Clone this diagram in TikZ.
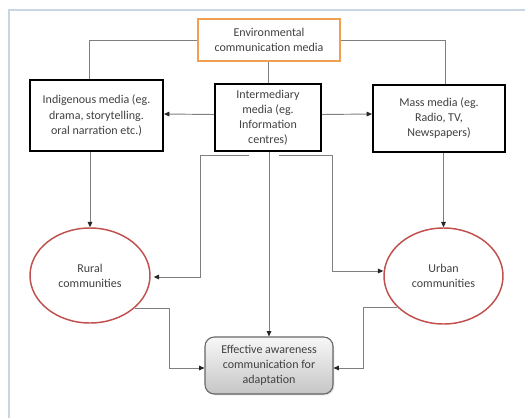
\documentclass[tikz,border=0pt]{standalone}
\usepackage{fontspec}
\setmainfont{Carlito}
\usetikzlibrary{arrows.meta,shapes.geometric,calc,shadows}
\definecolor{txt}{HTML}{404040}
\definecolor{conn}{HTML}{7F7F7F}
\definecolor{envor}{HTML}{F0A050}
\definecolor{ellred}{HTML}{C0504D}
\definecolor{framec}{HTML}{C9D5E2}
\begin{document}
\begin{tikzpicture}[x=0.75pt,y=-0.75pt,
  every node/.style={font=\fontsize{9}{11.3}\selectfont, text=txt, align=center, inner sep=0pt},
  mbox/.style={draw=black, line width=1.6pt, rectangle},
  envbox/.style={draw=envor, line width=1.3pt, rectangle},
  comm/.style={draw=ellred, line width=1.1pt, ellipse},
  effbox/.style={draw=gray!80!black, line width=0.8pt, rounded corners=7pt, top color=gray!6, bottom color=gray!45,
     drop shadow={opacity=0.25, shadow xshift=1pt, shadow yshift=-1pt}},
  conline/.style={draw=conn, line width=0.7pt},
  arr/.style={conline, -{Triangle[length=4pt,width=3.5pt,color=black!85]}}]
\useasboundingbox (0,0) rectangle (525,418);
\draw[framec, line width=0.8pt] (9,418) -- (9,10) -- (525,10);

\node[envbox, minimum width=106.5pt, minimum height=31.5pt] (env) at (269,40) {Environmental\\communication media};
\node[mbox, minimum width=99.75pt, minimum height=53.25pt] (indig) at (96.5,115.5) {Indigenous media (eg.\\drama, storytelling.\\oral narration etc.)};
\node[mbox, minimum width=79.5pt, minimum height=50.25pt] (inter) at (268,117.5) {Intermediary\\media (eg.\\Information\\centres)};
\node[mbox, minimum width=99pt, minimum height=50.25pt] (mass) at (439,118.5) {Mass media (eg.\\Radio, TV,\\Newspapers)};
\node[comm, minimum width=90pt, minimum height=71.25pt] (rural) at (90,275.5) {Rural\\communities};
\node[comm, minimum width=89.25pt, minimum height=72pt] (urban) at (443.5,276) {Urban\\communities};
\node[effbox, minimum width=96pt, minimum height=42.75pt] (eff) at (269,365.5) {Effective awareness\\communication for\\adaptation};

\coordinate (cL) at (249,155);
\coordinate (cR) at (279,155);

\draw[conline] (env.west) -| ($(indig.north)+(-7.5,0)$);
\draw[conline] (env.east) -| ($(mass.north)+(6,0)$);
\draw[conline] (env.south -| inter.north) -- (inter.north);
\draw[arr] ($(inter.west)+(0,-3)$) -- ($(indig.east)+(0,-1.5)$);
\draw[arr] ($(inter.east)+(0,-3)$) -- ($(mass.west)+(0,-4.5)$);
\draw[arr] (indig.south -| rural.north) -- (rural.north);
\draw[arr] (mass.south -| urban.north) -- (urban.north);
\draw[arr] (cL) -- ++(-49,0) |- ($(rural.east)+(3,1.5)$);
\draw[arr] (cR) -- ++(53,0) |- ($(urban.west)+(0,-5)$);
\draw[arr] (inter.south -| eff.north) -- (eff.north);
\draw[arr] (rural.-36) -| ($(eff.west)+(-35,2.5)$) -- ($(eff.west)+(0,2.5)$);
\draw[arr] (urban.214) -| ($(eff.east)+(30,2.5)$) -- ($(eff.east)+(0,2.5)$);
\end{tikzpicture}
\end{document}
